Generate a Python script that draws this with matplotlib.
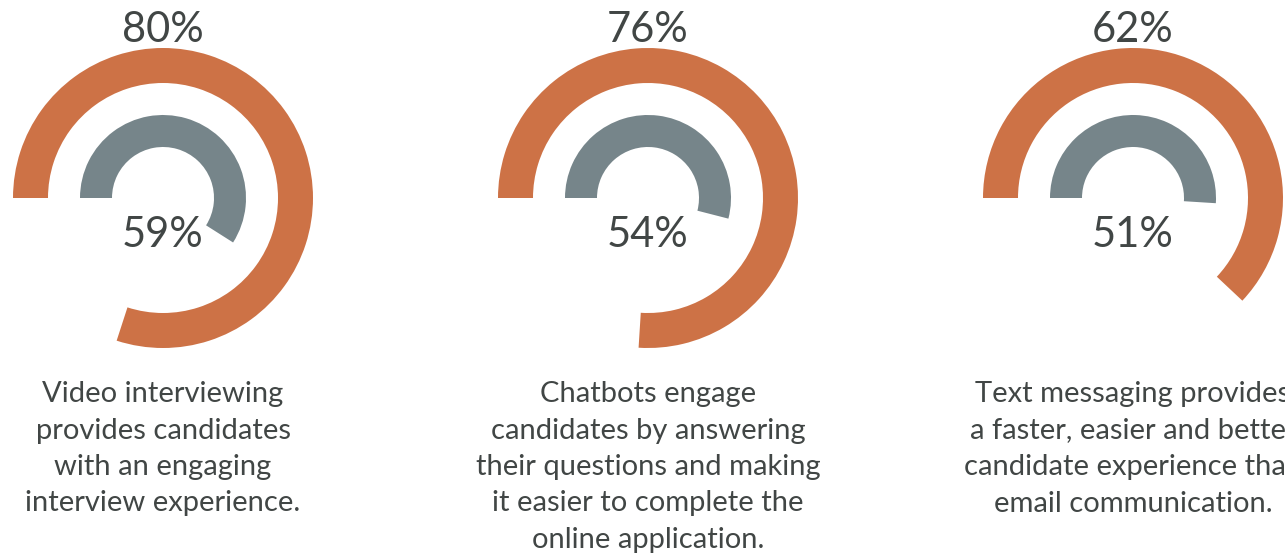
import matplotlib
matplotlib.use("Agg")
import matplotlib.pyplot as plt
from matplotlib.patches import Wedge

# survey results: outer (orange) and inner (gray) share per topic
outer_pct = [80, 76, 62]
inner_pct = [59, 54, 51]
captions = [
    "Video interviewing\nprovides candidates\nwith an engaging\ninterview experience.",
    "Chatbots engage\ncandidates by answering\ntheir questions and making\nit easier to complete the\nonline application.",
    "Text messaging provides\na faster, easier and better\ncandidate experience than\nemail communication.",
]

ORANGE = "#CD7246"
GRAY = "#76858A"
TEXT = "#414645"

W, H = 1285, 557
fig = plt.figure(figsize=(W / 100, H / 100), dpi=100)
ax = fig.add_axes([0, 0, 1, 1])
ax.set_xlim(0, W)
ax.set_ylim(0, H)
ax.set_aspect("equal")
ax.axis("off")

plt.rcParams["font.family"] = ["Lato", "DejaVu Sans"]

centers_x = [163, 648, 1133]
cy = H - 198

for cx, o, i, cap in zip(centers_x, outer_pct, inner_pct, captions):
    # rings start at 9 o'clock and run clockwise
    ax.add_patch(Wedge((cx, cy), 150, 180 - 360 * o / 100, 180,
                       width=35, facecolor=ORANGE, edgecolor="none"))
    ax.add_patch(Wedge((cx, cy), 83, 180 - 360 * i / 100, 180,
                       width=32, facecolor=GRAY, edgecolor="none"))
    ax.text(cx, H - 30, f"{o}%", ha="center", va="center",
            fontsize=30, color=TEXT)
    ax.text(cx, H - 235, f"{i}%", ha="center", va="center",
            fontsize=30, color=TEXT)
    ax.text(cx, H - 381, cap, ha="center", va="top", fontsize=21,
            color=TEXT, linespacing=1.5)

fig.savefig("out.png", dpi=100)
